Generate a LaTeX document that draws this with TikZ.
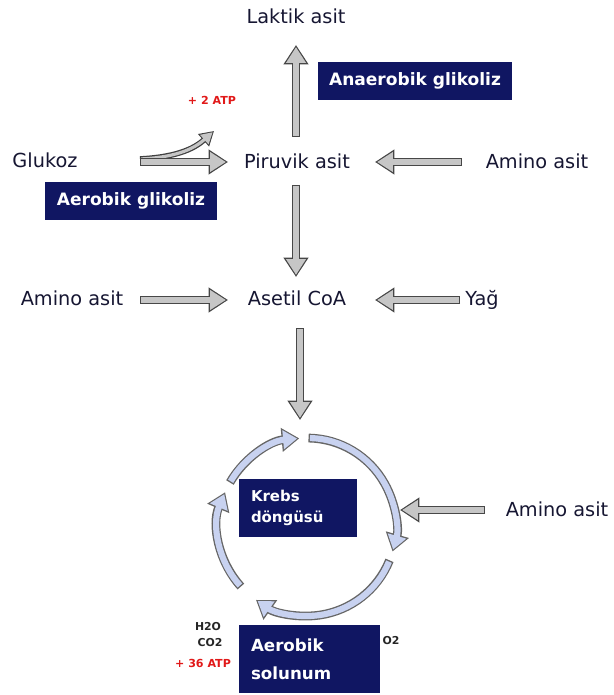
\documentclass[tikz,border=0pt]{standalone}
\usepackage{fontspec}
\setmainfont{DejaVu Sans}
\usetikzlibrary{arrows.meta}

\definecolor{inkblue}{RGB}{22,22,50}
\definecolor{boxblue}{RGB}{16,22,98}
\definecolor{atpred}{RGB}{225,25,25}
\definecolor{ringfill}{RGB}{200,210,240}

\tikzset{
  lbl/.style={text=inkblue, font=\fontsize{11}{13}\selectfont, inner sep=0pt, anchor=base},
  tagbox/.style={fill=boxblue, text=white, font=\bfseries\fontsize{9.7}{12}\selectfont, inner sep=0pt, align=left},
  tiny/.style={text=black!85, font=\bfseries\fontsize{6.2}{7}\selectfont, inner sep=0pt},
  atp/.style={text=atpred, font=\bfseries\fontsize{6.3}{7}\selectfont, inner sep=0pt},
  fatout/.style={draw=black!72, line width=4.6pt, -{Triangle[length=11pt,width=13.5pt]}},
  fatin/.style={draw=gray!45, line width=3.1pt, shorten >=1.2pt, shorten <=0.8pt, -{Triangle[length=9pt,width=10.8pt]}},
  thinout/.style={draw=black!75, line width=3.2pt, -{Triangle[length=8pt,width=9pt]}},
  thinin/.style={draw=gray!45, line width=1.8pt, shorten >=1pt, shorten <=0.7pt, -{Triangle[length=6.4pt,width=6.8pt]}},
  ringout/.style={draw=black!60, line width=5pt, -{Triangle[length=10pt,width=13pt]}},
  ringin/.style={draw=ringfill, line width=3.5pt, shorten >=1.2pt, shorten <=0.8pt, -{Triangle[length=8pt,width=10.4pt]}}
}

\newcommand{\fatarrow}[2]{\draw[fatout] #1 -- #2; \draw[fatin] #1 -- #2;}

\begin{document}
\begin{tikzpicture}[x=0.02cm, y=-0.02cm]
  \useasboundingbox (0,0) rectangle (614,695);

  % metabolites
  \node[lbl] (laktik) at (296,24) {Laktik asit};
  \node[lbl] (glukoz) at (45,168) {Glukoz};
  \node[lbl] (piruvik) at (297,169) {Piruvik asit};
  \node[lbl] (aminoa) at (537,169) {Amino asit};
  \node[lbl] (aminob) at (72,306) {Amino asit};
  \node[lbl] (asetil) at (297,306) {Asetil CoA};
  \node[lbl] (yag) at (482,306) {Yağ};
  \node[lbl] (aminoc) at (557,516) {Amino asit};
  \coordinate (kc) at (307,527);

  \node[atp] (atpa) at (212,100) {+ 2 ATP};

  % Krebs ring
  \foreach \a/\b in {150/95,89/-16,-22/-125,222/157} {
    \draw[ringout] ([shift={(\a:1.78cm)}]kc) arc[start angle=\a, end angle=\b, radius=1.78cm];
    \draw[ringin] ([shift={(\a:1.78cm)}]kc) arc[start angle=\a, end angle=\b, radius=1.78cm];
  }

  % gray arrows
  \draw[thinout] ([shift={(95,-9)}]glukoz.base) .. controls +(40,-2) and +(-18,16) .. ([shift={(2,31)}]atpa.center);
  \draw[thinin] ([shift={(95,-9)}]glukoz.base) .. controls +(40,-2) and +(-18,16) .. ([shift={(2,31)}]atpa.center);
  \fatarrow{([shift={(95,-6)}]glukoz.base)}{([shift={(-69,-7)}]piruvik.base)}
  \fatarrow{([shift={(-75,-7)}]aminoa.base)}{([shift={(78,-7)}]piruvik.base)}
  \fatarrow{([shift={(-1,-32)}]piruvik.base)}{([shift={(0,21)}]laktik.base)}
  \fatarrow{([shift={(-1,16)}]piruvik.base)}{([shift={(-1,-29)}]asetil.base)}
  \fatarrow{([shift={(68,-6)}]aminob.base)}{([shift={(-69,-6)}]asetil.base)}
  \fatarrow{([shift={(-22,-6)}]yag.base)}{([shift={(78,-6)}]asetil.base)}
  \fatarrow{([shift={(3,22)}]asetil.base)}{([shift={(-7,-107)}]kc)}
  \fatarrow{([shift={(-72,-6)}]aminoc.base)}{([shift={(93,-17)}]kc)}

  % blue tags
  \node[tagbox, minimum width=3.88cm, minimum height=0.76cm] (anaerob) at (415,81) {Anaerobik glikoliz};
  \node[tagbox, minimum width=3.46cm, minimum height=0.76cm] (aerobg) at (131,201) {Aerobik glikoliz};
  \node[tagbox, font=\bfseries\fontsize{8.5}{11.5}\selectfont, text width=1.88cm, inner xsep=0.24cm,
        minimum height=1.18cm] (krebs) at (298,508) {Krebs\\döngüsü};
  \node[tagbox, font=\bfseries\fontsize{9.5}{16}\selectfont, text width=2.34cm, inner xsep=0.24cm,
        minimum height=1.36cm] (solunum) at (309.5,659) {Aerobik\\solunum};

  % products of respiration
  \node[tiny] (h2o) at (208,627) {H2O};
  \node[tiny] (co2) at (210,643) {CO2};
  \node[tiny] (o2) at (391,641) {O2};
  \node[atp] (atpb) at (203,663) {+ 36 ATP};
\end{tikzpicture}
\end{document}
